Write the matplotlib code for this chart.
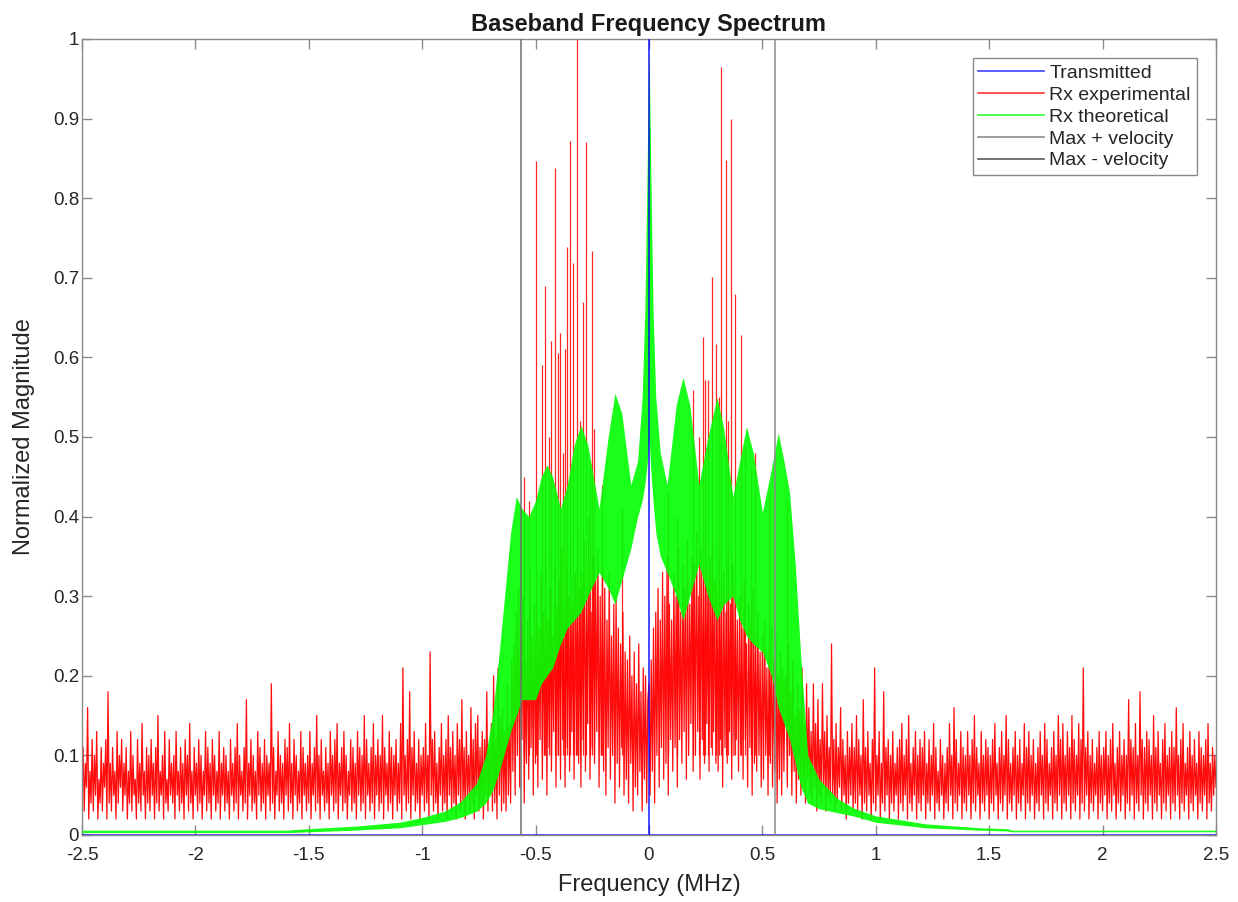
import numpy as np
import matplotlib
matplotlib.use("Agg")
import matplotlib.pyplot as plt
from matplotlib.lines import Line2D

plt.rcParams['font.family'] = ['Liberation Sans', 'DejaVu Sans']
plt.rcParams['axes.unicode_minus'] = False

# ---------------- data ----------------
# Transmitted spectrum (single tone at DC)
tx_freq = [-2.5, -0.0005, 0.0, 0.0005, 2.5]
tx_mag = [0.0, 0.0, 1.0, 0.0, 0.0]

# Rx experimental, sampled every 0.005 MHz (rows of 0.1 MHz)
red_left_range = (-2.5, -0.605)
red_left = [
    0.05,0.11,0.03,0.09,0.06,0.16,0.02,0.08,0.04,0.12,0.03,0.10,0.05,0.13,0.02,0.07,0.04,0.11,0.03,0.09,
    0.06,0.12,0.02,0.18,0.04,0.09,0.03,0.11,0.05,0.08,0.02,0.13,0.04,0.10,0.06,0.12,0.03,0.09,0.05,0.11,
    0.02,0.08,0.04,0.13,0.03,0.10,0.05,0.07,0.02,0.12,0.04,0.09,0.03,0.14,0.05,0.08,0.02,0.11,0.04,0.10,
    0.03,0.12,0.05,0.09,0.02,0.11,0.04,0.15,0.03,0.08,0.05,0.10,0.02,0.13,0.04,0.07,0.03,0.12,0.05,0.09,
    0.04,0.10,0.02,0.13,0.05,0.08,0.03,0.11,0.04,0.09,0.02,0.12,0.05,0.10,0.03,0.14,0.04,0.08,0.02,0.11,
    0.05,0.09,0.03,0.12,0.04,0.10,0.02,0.08,0.05,0.13,0.03,0.11,0.04,0.09,0.02,0.12,0.05,0.10,0.03,0.08,
    0.04,0.13,0.02,0.09,0.05,0.11,0.03,0.10,0.04,0.08,0.02,0.12,0.05,0.09,0.03,0.11,0.04,0.14,0.02,0.10,
    0.05,0.08,0.03,0.11,0.04,0.17,0.02,0.09,0.05,0.12,0.03,0.10,0.04,0.08,0.02,0.13,0.05,0.11,0.03,0.09,
    0.04,0.12,0.02,0.10,0.05,0.09,0.03,0.19,0.04,0.11,0.02,0.08,0.05,0.13,0.03,0.10,0.04,0.09,0.02,0.12,
    0.05,0.11,0.03,0.14,0.04,0.09,0.02,0.12,0.05,0.10,0.03,0.08,0.04,0.13,0.02,0.11,0.05,0.09,0.03,0.10,
    0.04,0.13,0.02,0.09,0.05,0.11,0.03,0.15,0.04,0.10,0.02,0.12,0.05,0.08,0.03,0.11,0.04,0.09,0.02,0.13,
    0.05,0.10,0.03,0.12,0.04,0.14,0.02,0.09,0.05,0.11,0.03,0.13,0.04,0.10,0.02,0.08,0.05,0.12,0.03,0.11,
    0.04,0.09,0.02,0.13,0.05,0.11,0.03,0.10,0.04,0.15,0.02,0.12,0.05,0.09,0.03,0.11,0.04,0.14,0.02,0.10,
    0.05,0.12,0.03,0.10,0.04,0.15,0.02,0.11,0.05,0.09,0.03,0.13,0.04,0.11,0.02,0.10,0.05,0.12,0.03,0.09,
    0.04,0.14,0.02,0.21,0.05,0.10,0.03,0.12,0.04,0.18,0.02,0.11,0.05,0.13,0.03,0.09,0.04,0.12,0.02,0.10,
    0.05,0.11,0.03,0.14,0.04,0.10,0.02,0.23,0.05,0.12,0.03,0.13,0.04,0.09,0.02,0.11,0.05,0.14,0.03,0.10,
    0.04,0.12,0.02,0.15,0.05,0.11,0.03,0.13,0.04,0.10,0.02,0.14,0.05,0.12,0.03,0.17,0.04,0.11,0.02,0.13,
    0.05,0.10,0.03,0.16,0.04,0.12,0.02,0.14,0.05,0.15,0.03,0.11,0.04,0.13,0.02,0.12,0.05,0.18,0.03,0.11,
    0.05,0.14,0.03,0.20,0.04,0.12,0.02,0.21,0.05,0.15,0.03,0.16,0.04,0.13,0.03,0.19,0.05,0.14,0.04,0.22,
]
red_center_range = (-0.6, 0.6)
red_center = [
    0.08,0.24,0.05,0.28,0.10,0.31,0.06,0.26,0.12,0.30,0.04,0.22,0.09,0.27,0.07,0.33,0.11,0.25,0.05,0.29,
    0.09,0.30,0.06,0.26,0.12,0.33,0.07,0.28,0.10,0.35,0.05,0.27,0.11,0.31,0.08,0.25,0.13,0.34,0.06,0.29,
    0.10,0.32,0.07,0.36,0.12,0.28,0.06,0.34,0.11,0.30,0.08,0.37,0.13,0.29,0.07,0.33,0.10,0.38,0.09,0.31,
    0.06,0.33,0.12,0.37,0.08,0.30,0.14,0.40,0.07,0.28,0.11,0.35,0.09,0.32,0.13,0.36,0.06,0.30,0.10,0.34,
    0.08,0.31,0.05,0.27,0.11,0.33,0.07,0.25,0.10,0.29,0.04,0.30,0.09,0.26,0.06,0.24,0.11,0.28,0.05,0.23,
    0.07,0.22,0.04,0.25,0.09,0.20,0.03,0.23,0.06,0.19,0.05,0.24,0.08,0.18,0.03,0.21,0.07,0.20,0.04,0.17,
    0.19,0.05,0.22,0.08,0.26,0.04,0.28,0.10,0.31,0.06,0.27,0.11,0.33,0.07,0.30,0.09,0.35,0.05,0.29,0.12,
    0.27,0.08,0.33,0.11,0.30,0.06,0.36,0.12,0.28,0.09,0.34,0.13,0.31,0.07,0.37,0.10,0.29,0.14,0.35,0.08,
    0.34,0.10,0.38,0.13,0.30,0.07,0.36,0.12,0.33,0.09,0.39,0.14,0.31,0.08,0.35,0.11,0.37,0.13,0.32,0.09,
    0.30,0.08,0.35,0.12,0.31,0.06,0.33,0.11,0.28,0.09,0.36,0.13,0.29,0.07,0.34,0.10,0.30,0.12,0.27,0.08,
    0.30,0.10,0.26,0.07,0.32,0.12,0.24,0.06,0.29,0.11,0.27,0.05,0.31,0.09,0.25,0.08,0.28,0.10,0.23,0.06,
    0.25,0.07,0.27,0.10,0.21,0.05,0.24,0.09,0.26,0.06,0.22,0.08,0.25,0.04,0.20,0.07,0.23,0.05,0.21,0.08,
    0.19,
]
red_right_range = (0.605, 2.5)
red_right = [
    0.20,0.06,0.24,0.10,0.18,0.05,0.22,0.08,0.15,0.04,0.19,0.07,0.16,0.05,0.21,0.06,0.14,0.04,0.19,0.07,
    0.16,0.05,0.13,0.04,0.19,0.06,0.14,0.03,0.17,0.05,0.12,0.04,0.19,0.06,0.13,0.03,0.15,0.05,0.11,0.04,
    0.24,0.05,0.12,0.03,0.14,0.04,0.11,0.06,0.16,0.03,0.12,0.05,0.10,0.02,0.13,0.04,0.11,0.05,0.14,0.03,
    0.11,0.04,0.15,0.03,0.12,0.05,0.10,0.02,0.17,0.04,0.11,0.03,0.13,0.05,0.09,0.02,0.12,0.04,0.21,0.03,
    0.10,0.05,0.13,0.02,0.09,0.04,0.18,0.03,0.11,0.05,0.12,0.02,0.10,0.04,0.13,0.03,0.09,0.05,0.11,0.02,
    0.12,0.04,0.14,0.03,0.10,0.05,0.12,0.02,0.15,0.04,0.09,0.03,0.11,0.05,0.13,0.02,0.10,0.04,0.12,0.03,
    0.11,0.05,0.13,0.02,0.09,0.04,0.12,0.03,0.10,0.05,0.14,0.02,0.11,0.04,0.08,0.03,0.12,0.05,0.10,0.02,
    0.09,0.04,0.11,0.03,0.14,0.05,0.10,0.02,0.16,0.04,0.12,0.03,0.09,0.05,0.13,0.02,0.11,0.04,0.10,0.03,
    0.13,0.05,0.10,0.02,0.12,0.04,0.15,0.03,0.11,0.05,0.09,0.02,0.13,0.04,0.10,0.03,0.12,0.05,0.11,0.02,
    0.10,0.04,0.12,0.03,0.14,0.05,0.09,0.02,0.11,0.04,0.13,0.03,0.10,0.05,0.15,0.02,0.12,0.04,0.09,0.03,
    0.11,0.05,0.13,0.02,0.10,0.04,0.12,0.03,0.09,0.05,0.14,0.02,0.11,0.04,0.13,0.03,0.10,0.05,0.12,0.02,
    0.09,0.04,0.11,0.03,0.13,0.05,0.10,0.02,0.14,0.04,0.12,0.03,0.09,0.05,0.11,0.02,0.13,0.04,0.10,0.03,
    0.15,0.05,0.12,0.02,0.14,0.04,0.10,0.03,0.13,0.05,0.11,0.02,0.15,0.04,0.12,0.03,0.10,0.05,0.14,0.02,
    0.12,0.04,0.21,0.03,0.11,0.05,0.13,0.02,0.10,0.04,0.12,0.03,0.09,0.05,0.11,0.02,0.13,0.04,0.10,0.03,
    0.11,0.05,0.13,0.02,0.10,0.04,0.12,0.03,0.14,0.05,0.09,0.02,0.11,0.04,0.13,0.03,0.10,0.05,0.12,0.02,
    0.10,0.04,0.17,0.03,0.12,0.05,0.11,0.02,0.14,0.04,0.10,0.03,0.18,0.05,0.12,0.02,0.11,0.04,0.13,0.03,
    0.12,0.05,0.10,0.02,0.15,0.04,0.11,0.03,0.13,0.05,0.09,0.02,0.12,0.04,0.14,0.03,0.10,0.05,0.11,0.02,
    0.13,0.04,0.11,0.03,0.16,0.05,0.10,0.02,0.12,0.04,0.14,0.03,0.09,0.05,0.11,0.02,0.13,0.04,0.10,0.03,
    0.12,0.05,0.09,0.02,0.13,0.04,0.11,0.03,0.10,0.05,0.12,0.02,0.14,0.04,0.09,0.03,0.11,0.05,0.10,0.06,
]

# Tall isolated Rx experimental spikes
spike_freq = [-0.552, -0.527, -0.500, -0.473, -0.459, -0.440, -0.433, -0.414,
              -0.403, -0.391, -0.380, -0.372, -0.363, -0.348, -0.336, -0.317,
              -0.305, -0.292, -0.276, -0.262, -0.250, -0.244, -0.205, -0.120,
              0.085, 0.125, 0.195, 0.222, 0.238, 0.247, 0.262, 0.276, 0.294,
              0.310, 0.317, 0.338, 0.350, 0.360, 0.379, 0.404, 0.425, 0.452,
              0.467, 0.530, 0.607]
spike_mag = [0.45, 0.42, 0.847, 0.59, 0.69, 0.50, 0.62, 0.838,
             0.605, 0.63, 0.48, 0.61, 0.739, 0.872, 0.718, 1.00,
             0.52, 0.67, 0.87, 0.47, 0.734, 0.51, 0.44, 0.41,
             0.43, 0.40, 0.559, 0.50, 0.626, 0.572, 0.572, 0.701, 0.617,
             0.55, 0.965, 0.848, 0.52, 0.90, 0.68, 0.628, 0.49, 0.46,
             0.48, 0.43, 0.42]

# Rx theoretical: upper / lower envelope of the dense oscillating spectrum
green_freq = [-2.50, -1.60, -1.50, -1.30, -1.10, -1.00, -0.90, -0.83, -0.76,
              -0.72, -0.69, -0.66, -0.63, -0.61, -0.585, -0.56, -0.53, -0.50,
              -0.475, -0.45, -0.425, -0.39, -0.36, -0.33, -0.30, -0.27, -0.22,
              -0.18, -0.15, -0.12, -0.08, -0.05, -0.03, -0.018, -0.01, -0.004,
              0.0, 0.004, 0.01, 0.018, 0.03, 0.05, 0.08, 0.12, 0.15, 0.18,
              0.22, 0.26, 0.30, 0.33, 0.37, 0.40, 0.43, 0.46, 0.50, 0.54,
              0.57, 0.595, 0.62, 0.645, 0.67, 0.70, 0.75, 0.83, 0.90, 1.00,
              1.22, 1.46, 1.58, 1.60, 2.50]
green_upper = [0.006, 0.006, 0.008, 0.011, 0.016, 0.022, 0.030, 0.042, 0.065,
               0.10, 0.15, 0.23, 0.32, 0.38, 0.425, 0.41, 0.40, 0.42,
               0.45, 0.465, 0.45, 0.41, 0.44, 0.49, 0.515, 0.49, 0.41,
               0.50, 0.555, 0.53, 0.44, 0.47, 0.55, 0.66, 0.80, 0.92,
               0.99, 0.92, 0.80, 0.66, 0.55, 0.48, 0.44, 0.54, 0.575, 0.54,
               0.44, 0.50, 0.55, 0.51, 0.425, 0.47, 0.513, 0.48, 0.405, 0.46,
               0.505, 0.47, 0.43, 0.34, 0.22, 0.10, 0.07, 0.046, 0.034, 0.024,
               0.014, 0.009, 0.008, 0.006, 0.006]
green_lower = [0.003, 0.003, 0.004, 0.006, 0.009, 0.013, 0.017, 0.022, 0.030,
               0.040, 0.055, 0.08, 0.11, 0.13, 0.15, 0.17, 0.17, 0.17,
               0.19, 0.20, 0.21, 0.24, 0.26, 0.27, 0.28, 0.30, 0.33,
               0.31, 0.29, 0.32, 0.36, 0.40, 0.42, 0.44, 0.46, 0.48,
               0.50, 0.48, 0.45, 0.42, 0.38, 0.35, 0.33, 0.30, 0.27, 0.30,
               0.34, 0.30, 0.27, 0.29, 0.30, 0.27, 0.25, 0.24, 0.23, 0.20,
               0.16, 0.14, 0.12, 0.09, 0.06, 0.04, 0.033, 0.028, 0.024, 0.016,
               0.009, 0.006, 0.005, 0.004, 0.004]

vel_plus = 0.556
vel_minus = -0.564

x_ticks = [-2.5, -2, -1.5, -1, -0.5, 0, 0.5, 1, 1.5, 2, 2.5]
x_ticklabels = ['-2.5', '-2', '-1.5', '-1', '-0.5', '0', '0.5', '1', '1.5', '2', '2.5']
y_ticks = [0, 0.1, 0.2, 0.3, 0.4, 0.5, 0.6, 0.7, 0.8, 0.9, 1]
y_ticklabels = ['0', '0.1', '0.2', '0.3', '0.4', '0.5', '0.6', '0.7', '0.8', '0.9', '1']

# ---------------- plot ----------------
red_freq = np.concatenate([
    np.linspace(*red_left_range, len(red_left)),
    np.linspace(*red_center_range, len(red_center)),
    np.linspace(*red_right_range, len(red_right)),
])
red_mag = np.array(red_left + red_center + red_right)

fig = plt.figure(figsize=(12.38, 9.02), dpi=100)
ax = fig.add_axes([0.0662, 0.0743, 0.9160, 0.8825])

ax.plot(red_freq, red_mag, color='#ff0000', lw=0.9, alpha=0.95, zorder=2)
ax.vlines(spike_freq, 0.1, spike_mag, color='#ff0000', lw=0.9, alpha=0.85, zorder=2)
ax.fill_between(green_freq, green_lower, green_upper, color='#00ff00',
                alpha=0.9, lw=0, zorder=3)
ax.plot(tx_freq, tx_mag, color='#0000ff', lw=1.2, alpha=0.7, zorder=4)
ax.axvline(vel_plus, color='#8c8c8c', lw=1.1, zorder=5)
ax.axvline(vel_minus, color='#6e6e6e', lw=1.1, zorder=5)

ax.set_xlim(-2.5, 2.5)
ax.set_ylim(0, 1)
ax.set_xticks(x_ticks)
ax.set_xticklabels(x_ticklabels)
ax.set_yticks(y_ticks)
ax.set_yticklabels(y_ticklabels)

for s in ax.spines.values():
    s.set_color('#8a8a8a')
    s.set_linewidth(1.0)
ax.tick_params(direction='in', length=7, width=1, colors='#8a8a8a',
               labelcolor='#262626', labelsize=13.5, top=True, right=True)
ax.tick_params(axis='x', pad=9)
ax.tick_params(axis='y', pad=2)

ax.set_title('Baseband Frequency Spectrum', fontsize=17, fontweight='bold',
             color='#1a1a1a', pad=6)
ax.set_xlabel('Frequency (MHz)', fontsize=17, color='#262626', labelpad=7)
ax.set_ylabel('Normalized Magnitude', fontsize=17, color='#262626', labelpad=13)

handles = [
    Line2D([], [], color='#0000ff', lw=1.2, alpha=0.75),
    Line2D([], [], color='#ff0000', lw=1.2, alpha=0.8),
    Line2D([], [], color='#00ff00', lw=1.2, alpha=0.8),
    Line2D([], [], color='#8c8c8c', lw=1.2),
    Line2D([], [], color='#5a5a5a', lw=1.2),
]
labels = ['Transmitted', 'Rx experimental', 'Rx theoretical',
          'Max + velocity', 'Max - velocity']
leg = ax.legend(handles, labels, loc='upper right', fontsize=14,
                frameon=True, fancybox=False, edgecolor='#8a8a8a',
                handlelength=3.4, handletextpad=0.25, labelspacing=0.22,
                borderpad=0.3, borderaxespad=1.0, framealpha=1)
leg.get_frame().set_linewidth(1.0)
for t in leg.get_texts():
    t.set_color('#262626')

fig.savefig('out.png', dpi=100, facecolor='white')
